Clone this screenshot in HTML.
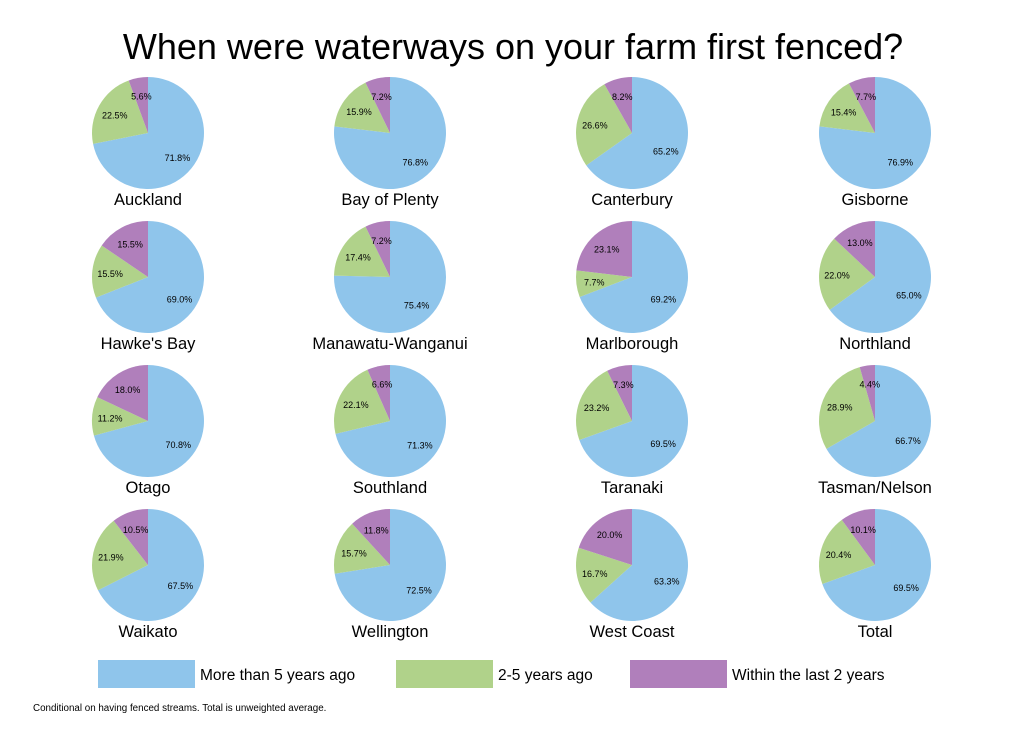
<!DOCTYPE html>
<html><head><meta charset="utf-8"><style>
body{margin:0;background:#fff;width:1024px;height:745px;overflow:hidden;font-family:"Liberation Sans",Arial,sans-serif}
</style></head><body>
<svg id="chart" width="1024" height="745" xmlns="http://www.w3.org/2000/svg">
<text x="513" y="59" text-anchor="middle" font-size="36" fill="#000">When were waterways on your farm first fenced?</text>
<g id="pies"></g>
<g>
<rect x="98" y="660" width="97" height="28" fill="#8fc5eb"/>
<text x="200" y="680" font-size="15.5">More than 5 years ago</text>
<rect x="396" y="660" width="97" height="28" fill="#b0d28a"/>
<text x="498" y="680" font-size="15.5">2-5 years ago</text>
<rect x="630" y="660" width="97" height="28" fill="#b07fbb"/>
<text x="732" y="680" font-size="15.5">Within the last 2 years</text>
</g>
<text x="33" y="711" font-size="9.8">Conditional on having fenced streams. Total is unweighted average.</text>
</svg>
<script>
const regions=["Auckland","Bay of Plenty","Canterbury","Gisborne","Hawke's Bay","Manawatu-Wanganui","Marlborough","Northland","Otago","Southland","Taranaki","Tasman/Nelson","Waikato","Wellington","West Coast","Total"];
const moreThan5=[71.8,76.8,65.2,76.9,69.0,75.4,69.2,65.0,70.8,71.3,69.5,66.7,67.5,72.5,63.3,69.5];
const years2to5=[22.5,15.9,26.6,15.4,15.5,17.4,7.7,22.0,11.2,22.1,23.2,28.9,21.9,15.7,16.7,20.4];
const within2=[5.6,7.2,8.2,7.7,15.5,7.2,23.1,13.0,18.0,6.6,7.3,4.4,10.5,11.8,20.0,10.1];
const colors=["#8fc5eb","#b0d28a","#b07fbb"];
const NS="http://www.w3.org/2000/svg";
const g=document.getElementById('pies');
const colX=[148,390,632,875], rowY=[133,277,421,565], R=56;
function pt(cx,cy,r,frac){const a=frac*2*Math.PI;return [cx+r*Math.sin(a),cy-r*Math.cos(a)];}
regions.forEach((name,i)=>{
  const cx=colX[i%4], cy=rowY[Math.floor(i/4)];
  const vals=[moreThan5[i],years2to5[i],within2[i]];
  const tot=vals.reduce((a,b)=>a+b,0);
  const grp=document.createElementNS(NS,'g');
  
  
  let acc=0;
  vals.forEach((v,k)=>{
    const f0=acc/tot, f1=(acc+v)/tot; acc+=v;
    const [x0,y0]=pt(cx,cy,R,f0),[x1,y1]=pt(cx,cy,R,f1);
    const p=document.createElementNS(NS,'path');
    p.setAttribute('d',`M${cx},${cy}L${x0},${y0}A${R},${R} 0 ${f1-f0>0.5?1:0} 1 ${x1},${y1}Z`);
    p.setAttribute('fill',colors[k]);
    
    
    grp.appendChild(p);
    const [lx,ly]=pt(cx,cy,R*0.68,(f0+f1)/2);
    const t=document.createElementNS(NS,'text');
    t.setAttribute('x',lx);t.setAttribute('y',ly+4);
    t.setAttribute('text-anchor','middle');t.setAttribute('font-size','9');
    t.textContent=v.toFixed(1)+'%';
    
    
    grp.appendChild(t);
  });
  const lab=document.createElementNS(NS,'text');
  lab.setAttribute('x',cx);lab.setAttribute('y',cy+72);
  lab.setAttribute('text-anchor','middle');lab.setAttribute('font-size','16.5');
  lab.textContent=name;
  
  
  grp.appendChild(lab);
  g.appendChild(grp);
});
</script>
</body></html>
